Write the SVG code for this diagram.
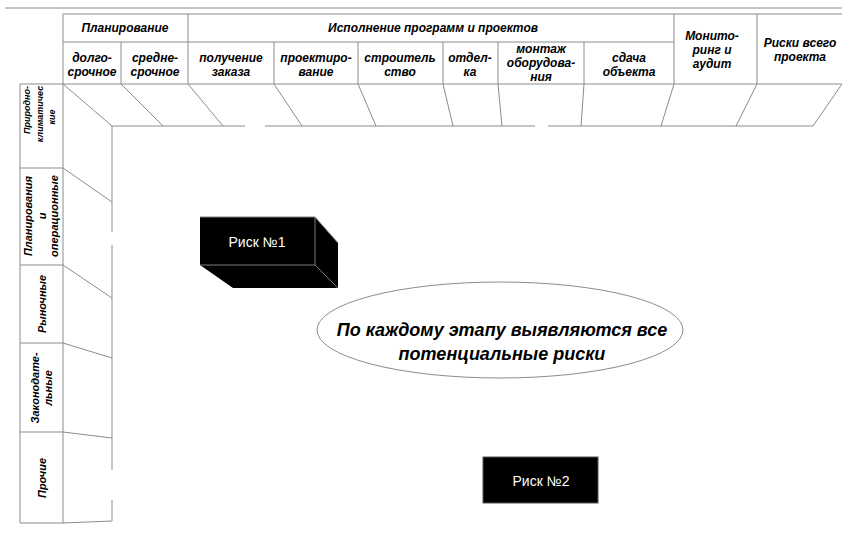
<svg xmlns="http://www.w3.org/2000/svg" width="842" height="533" viewBox="0 0 842 533">
  <style>
    .ln { stroke: #8c8c8c; stroke-width: 1; fill: none; }
    .hd { font-family: "Liberation Sans", Arial, sans-serif; font-size: 12px; font-weight: bold; font-style: italic; fill: #000; text-anchor: middle; }
    .sd { font-family: "Liberation Sans", Arial, sans-serif; font-size: 11px; font-weight: bold; font-style: italic; fill: #000; text-anchor: middle; }
    .sm { font-size: 9px; }
    .risk { font-family: "Liberation Sans", Arial, sans-serif; font-size: 14px; fill: #fff; text-anchor: middle; }
    .note { font-family: "Liberation Sans", Arial, sans-serif; font-size: 18px; font-weight: bold; font-style: italic; fill: #000; text-anchor: middle; }
    .edge { stroke: #7a7a7a; stroke-width: 1; }
  </style>

  <rect width="842" height="533" fill="#fff"/>

  <!-- page rule -->
  <line class="ln" x1="5" y1="8" x2="842" y2="8"/>

  <!-- header grid -->
  <g id="header-grid">
    <line class="ln" x1="63" y1="14" x2="842" y2="14"/>
    <line class="ln" x1="63" y1="42" x2="674" y2="42"/>
    <line class="ln" x1="20" y1="84" x2="842" y2="84"/>
    <line class="ln" x1="63" y1="14" x2="63" y2="523"/>
    <line class="ln" x1="121" y1="42" x2="121" y2="84"/>
    <line class="ln" x1="188" y1="14" x2="188" y2="84"/>
    <line class="ln" x1="274" y1="42" x2="274" y2="84"/>
    <line class="ln" x1="358" y1="42" x2="358" y2="84"/>
    <line class="ln" x1="443" y1="42" x2="443" y2="84"/>
    <line class="ln" x1="498" y1="42" x2="498" y2="84"/>
    <line class="ln" x1="584" y1="42" x2="584" y2="84"/>
    <line class="ln" x1="674" y1="14" x2="674" y2="84"/>
    <line class="ln" x1="757" y1="14" x2="757" y2="84"/>
  </g>

  <!-- header labels -->
  <g id="h-planning"><text class="hd" x="125" y="32">Планирование</text></g>
  <g id="h-execution"><text class="hd" x="433" y="32">Исполнение программ и проектов</text></g>
  <g id="h-long"><text class="hd" x="92" y="62">долго-</text><text class="hd" x="92" y="76">срочное</text></g>
  <g id="h-mid"><text class="hd" x="155" y="62">средне-</text><text class="hd" x="155" y="76">срочное</text></g>
  <g id="h-order"><text class="hd" x="231" y="62">получение</text><text class="hd" x="231" y="76">заказа</text></g>
  <g id="h-design"><text class="hd" x="316" y="62">проектиро-</text><text class="hd" x="316" y="76">вание</text></g>
  <g id="h-build"><text class="hd" x="400" y="62">строитель</text><text class="hd" x="400" y="76">ство</text></g>
  <g id="h-finish"><text class="hd" x="470" y="62">отдел-</text><text class="hd" x="470" y="76">ка</text></g>
  <g id="h-install"><text class="hd" x="541" y="53">монтаж</text><text class="hd" x="541" y="67">оборудова-</text><text class="hd" x="541" y="81">ния</text></g>
  <g id="h-handover"><text class="hd" x="629" y="62">сдача</text><text class="hd" x="629" y="76">объекта</text></g>
  <g id="h-monitor"><text class="hd" x="712" y="40">Монито-</text><text class="hd" x="712" y="54">ринг и</text><text class="hd" x="712" y="68">аудит</text></g>
  <g id="h-project"><text class="hd" x="800" y="47">Риски всего</text><text class="hd" x="800" y="61">проекта</text></g>

  <!-- slanted band under the header -->
  <g id="top-band">
    <polyline class="ln" points="112,126 245,126"/>
    <polyline class="ln" points="265,126 535,126"/>
    <polyline class="ln" points="548,126 813,126"/>
    <line class="ln" x1="63" y1="84" x2="112" y2="126"/>
    <line class="ln" x1="121" y1="84" x2="163" y2="126"/>
    <line class="ln" x1="188" y1="84" x2="223" y2="126"/>
    <line class="ln" x1="274" y1="84" x2="302" y2="126"/>
    <line class="ln" x1="358" y1="84" x2="376" y2="126"/>
    <line class="ln" x1="443" y1="84" x2="453" y2="126"/>
    <line class="ln" x1="498" y1="84" x2="502" y2="126"/>
    <line class="ln" x1="584" y1="84" x2="581" y2="126"/>
    <line class="ln" x1="674" y1="84" x2="661" y2="126"/>
    <line class="ln" x1="757" y1="84" x2="736" y2="126"/>
    <line class="ln" x1="842" y1="84" x2="813" y2="126"/>
  </g>

  <!-- left category column -->
  <g id="left-grid">
    <line class="ln" x1="20" y1="84" x2="20" y2="523"/>
    <line class="ln" x1="20" y1="168" x2="63" y2="168"/>
    <line class="ln" x1="20" y1="265" x2="63" y2="265"/>
    <line class="ln" x1="20" y1="343" x2="63" y2="343"/>
    <line class="ln" x1="20" y1="432" x2="63" y2="432"/>
    <line class="ln" x1="20" y1="523" x2="63" y2="523"/>
    <line class="ln" x1="63" y1="168" x2="112" y2="202"/>
    <line class="ln" x1="63" y1="265" x2="112" y2="298"/>
    <line class="ln" x1="63" y1="343" x2="112" y2="358"/>
    <line class="ln" x1="63" y1="432" x2="112" y2="438"/>
    <line class="ln" x1="63" y1="523" x2="112" y2="521"/>
    <line class="ln" x1="112" y1="126" x2="112" y2="232"/>
    <line class="ln" x1="112" y1="245" x2="112" y2="470"/>
    <line class="ln" x1="112" y1="500" x2="112" y2="521"/>
  </g>

  <g id="c-natural">
    <text class="sd sm" transform="translate(30,110) rotate(-90)">Природно-</text>
    <text class="sd sm" transform="translate(43,114) rotate(-90)">климатичес</text>
    <text class="sd sm" transform="translate(55,117) rotate(-90)">кие</text>
  </g>
  <g id="c-operational">
    <text class="sd" transform="translate(32,216) rotate(-90)">Планирования</text>
    <text class="sd" transform="translate(46,216) rotate(-90)">и</text>
    <text class="sd" transform="translate(58,216) rotate(-90)">операционные</text>
  </g>
  <g id="c-market">
    <text class="sd" transform="translate(46,304) rotate(-90)">Рыночные</text>
  </g>
  <g id="c-legal">
    <text class="sd" transform="translate(39,388) rotate(-90)">Законодате-</text>
    <text class="sd" transform="translate(52,388) rotate(-90)">льные</text>
  </g>
  <g id="c-other">
    <text class="sd" transform="translate(46,478) rotate(-90)">Прочие</text>
  </g>

  <!-- risk block 1 (solid box) -->
  <g id="risk-1">
    <polygon points="315,217 338,243 338,288 315,265" fill="#000"/>
    <polygon points="200,265 315,265 338,288 233,288" fill="#000"/>
    <rect x="200" y="217" width="115" height="48" fill="#000"/>
    <line class="edge" x1="200" y1="217" x2="315" y2="217"/>
    <line class="edge" x1="315" y1="217" x2="315" y2="265"/>
    <line class="edge" x1="200" y1="265" x2="315" y2="265"/>
    <line class="edge" x1="315" y1="265" x2="338" y2="288"/>
    <line class="edge" x1="315" y1="217" x2="338" y2="243"/>
    <text class="risk" x="257" y="247">Риск №1</text>
  </g>

  <!-- note -->
  <g id="note">
    <ellipse cx="500" cy="330" rx="183" ry="48" fill="#fff" stroke="#8c8c8c" stroke-width="1"/>
    <text class="note" x="502" y="336">По каждому этапу выявляются все</text>
    <text class="note" x="502" y="360">потенциальные риски</text>
  </g>

  <!-- risk block 2 -->
  <g id="risk-2">
    <rect x="483" y="457" width="115" height="46" fill="#000" stroke="#555" stroke-width="1"/>
    <text class="risk" x="541" y="486">Риск №2</text>
  </g>
</svg>
